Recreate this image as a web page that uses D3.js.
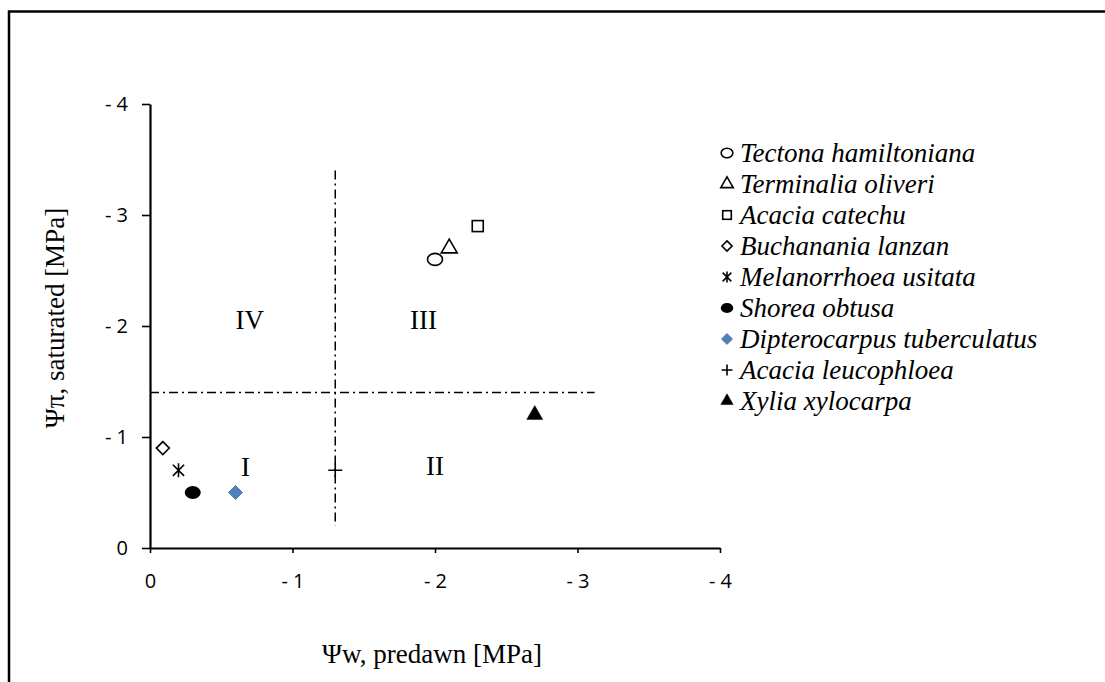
<!DOCTYPE html>
<html>
<head>
<meta charset="utf-8">
<script src="https://cdn.jsdelivr.net/npm/d3@7"></script>
<style>
  body { margin:0; background:#fff; }
  svg { display:block; }
</style>
</head>
<body>
<div id="chart"></div>
<script>
// species data
var species = ["Tectona hamiltoniana", "Terminalia oliveri", "Acacia catechu", "Buchanania lanzan",
  "Melanorrhoea usitata", "Shorea obtusa", "Dipterocarpus tuberculatus", "Acacia leucophloea", "Xylia xylocarpa"];
var predawn = [-2.0, -2.1, -2.3, -0.09, -0.2, -0.3, -0.6, -1.3, -2.7];
var saturated = [-2.6, -2.7, -2.9, -0.9, -0.7, -0.5, -0.5, -0.7, -1.2];
var markers = ["circle", "triangle", "square", "diamond", "asterisk", "dot", "bluediamond", "plus", "filltriangle"];

var ticks = [0, -1, -2, -3, -4];
var thresholdX = -1.3, thresholdY = -1.4;
var quadrants = [
  {label:"I", x:-0.67, y:-0.73},
  {label:"II", x:-2.0, y:-0.74},
  {label:"III", x:-1.92, y:-2.05},
  {label:"IV", x:-0.7, y:-2.05}
];

var W = 1105, H = 682;
var svg = d3.select("#chart").append("svg")
  .attr("width", W).attr("height", H);

// outer frame (runs off the right and bottom edge)
svg.append("rect")
  .attr("x", 9).attr("y", 11.5)
  .attr("width", W + 20).attr("height", H + 20)
  .attr("fill", "none").attr("stroke", "#000").attr("stroke-width", 2.5);

var x = d3.scaleLinear().domain([0, -4]).range([150, 720]);
var y = d3.scaleLinear().domain([0, -4]).range([548, 104]);

function tickFmt(d) { return d == 0 ? "0" : "- " + Math.abs(d); }

var tickFont = "'Open Sans', 'DejaVu Sans', sans-serif";
var serif = "'Liberation Serif', 'Times New Roman', serif";

var xAxis = svg.append("g")
  .attr("transform", "translate(0," + y(0) + ")")
  .call(d3.axisBottom(x).tickValues(ticks).tickFormat(tickFmt).tickSize(5).tickSizeOuter(0));
var yAxis = svg.append("g")
  .attr("transform", "translate(" + x(0) + ",0)")
  .call(d3.axisLeft(y).tickValues(ticks).tickFormat(tickFmt).tickSize(8).tickSizeOuter(0));

[xAxis, yAxis].forEach(function(a) {
  a.select(".domain").attr("stroke-width", 2.2);
  a.selectAll(".tick line").attr("stroke-width", 1.6);
  a.selectAll("text")
    .attr("font-family", tickFont)
    .attr("font-size", 20)
    .attr("fill", "#000");
});
xAxis.selectAll("text").attr("y", 34).attr("dy", "0.32em");
yAxis.selectAll("text").attr("x", -22);

// threshold lines
var dash = "9,4,2,4";
svg.append("line")
  .attr("x1", x(0)).attr("x2", x(-3.12))
  .attr("y1", y(thresholdY)).attr("y2", y(thresholdY))
  .attr("stroke", "#000").attr("stroke-width", 1.5).attr("stroke-dasharray", dash);
svg.append("line")
  .attr("x1", x(thresholdX)).attr("x2", x(thresholdX))
  .attr("y1", y(-3.4)).attr("y2", y(-0.2))
  .attr("stroke", "#000").attr("stroke-width", 1.5).attr("stroke-dasharray", dash);

svg.selectAll(".quad")
  .data(quadrants)
  .enter()
  .append("text")
  .attr("class", "quad")
  .attr("x", function(d) { return x(d.x); })
  .attr("y", function(d) { return y(d.y); })
  .attr("text-anchor", "middle")
  .attr("dominant-baseline", "central")
  .attr("font-family", serif)
  .attr("font-size", 27)
  .text(function(d) { return d.label; });

function drawMarker(g, m, s) {
  // s = scale factor (1 for plot, smaller for legend)
  if (m == "circle") {
    g.append("ellipse").attr("rx", 7.5 * s).attr("ry", 6 * s)
      .attr("fill", "none").attr("stroke", "#000").attr("stroke-width", 1.6);
  } else if (m == "triangle" || m == "filltriangle") {
    g.append("path").attr("d", d3.symbol().type(d3.symbolTriangle).size(110 * s * s)())
      .attr("fill", m == "filltriangle" ? "#000" : "none")
      .attr("stroke", "#000").attr("stroke-width", m == "filltriangle" ? 0.5 : 1.6);
  } else if (m == "square") {
    g.append("rect").attr("x", -5.5 * s).attr("y", -5.5 * s)
      .attr("width", 11 * s).attr("height", 11 * s)
      .attr("fill", "none").attr("stroke", "#000").attr("stroke-width", 1.6);
  } else if (m == "diamond") {
    g.append("path").attr("d", "M0," + (-6.5 * s) + "L" + (6.5 * s) + ",0L0," + (6.5 * s) + "L" + (-6.5 * s) + ",0Z")
      .attr("fill", "none").attr("stroke", "#000").attr("stroke-width", 1.6);
  } else if (m == "bluediamond") {
    g.append("path").attr("d", "M0," + (-7 * s) + "L" + (7 * s) + ",0L0," + (7 * s) + "L" + (-7 * s) + ",0Z")
      .attr("fill", "#4f81bd").attr("stroke", "#3d6da6").attr("stroke-width", 0.8);
  } else if (m == "dot") {
    g.append("ellipse").attr("rx", 8 * s).attr("ry", 6.5 * s).attr("fill", "#000");
  } else if (m == "plus") {
    var r = 7 * s;
    g.append("path").attr("d", "M" + (-r) + ",0H" + r + "M0," + (-r) + "V" + r)
      .attr("stroke", "#000").attr("stroke-width", 1.6);
  } else if (m == "asterisk") {
    var r = 7 * s;
    g.append("path").attr("d", "M" + (-r * 0.8) + "," + (-r * 0.8) + "L" + (r * 0.8) + "," + (r * 0.8) +
        "M" + (r * 0.8) + "," + (-r * 0.8) + "L" + (-r * 0.8) + "," + (r * 0.8) + "M0," + (-r) + "V" + r)
      .attr("stroke", "#000").attr("stroke-width", 1.6);
  }
}

// points
svg.selectAll(".pt")
  .data(species)
  .enter()
  .append("g")
  .attr("class", "pt")
  .attr("transform", function(d, i) { return "translate(" + x(predawn[i]) + "," + y(saturated[i]) + ")"; })
  .each(function(d, i) { drawMarker(d3.select(this), markers[i], 1); });

// legend
var legend = svg.selectAll(".legendEntry")
  .data(species)
  .enter()
  .append("g")
  .attr("class", "legendEntry")
  .attr("transform", function(d, i) { return "translate(727," + (153 + i * 31) + ")"; });
legend.each(function(d, i) {
  drawMarker(d3.select(this), markers[i], 0.78);
  d3.select(this).append("text")
    .attr("x", 13).attr("y", 0)
    .attr("dominant-baseline", "central")
    .attr("font-family", serif)
    .attr("font-style", "italic")
    .attr("font-size", 27)
    .text(d);
});

// axis titles
svg.append("text")
  .attr("x", 432).attr("y", 654)
  .attr("text-anchor", "middle")
  .attr("dominant-baseline", "central")
  .attr("font-family", serif)
  .attr("font-size", 27)
  .text("Ψw, predawn [MPa]");

svg.append("text")
  .attr("transform", "translate(55,318) rotate(-90)")
  .attr("text-anchor", "middle")
  .attr("dominant-baseline", "central")
  .attr("font-family", serif)
  .attr("font-size", 27)
  .text("Ψπ, saturated [MPa]");
</script>
</body>
</html>
